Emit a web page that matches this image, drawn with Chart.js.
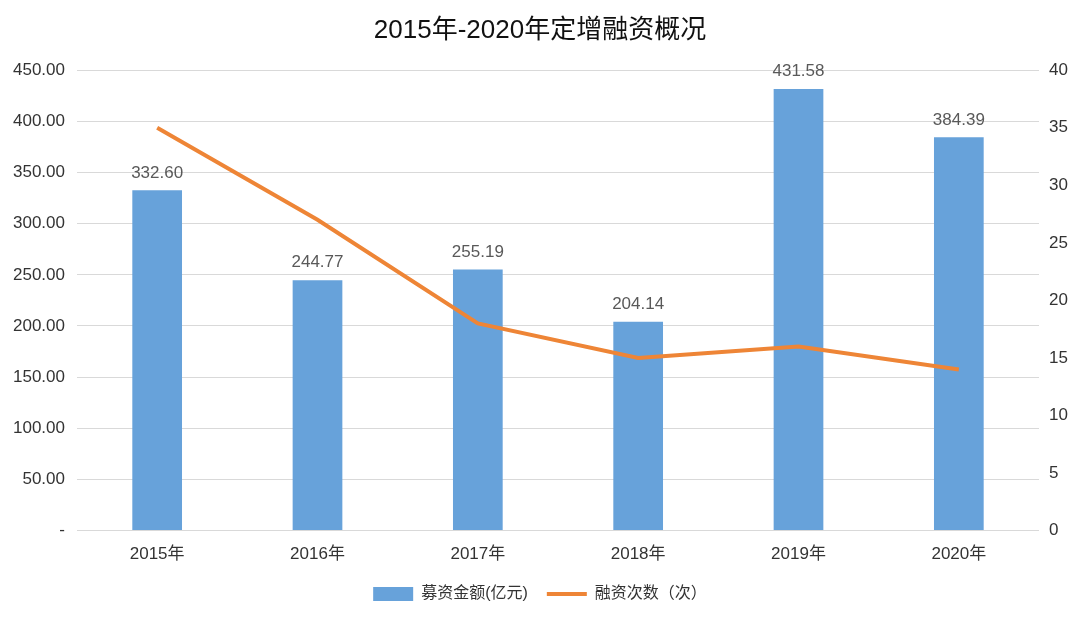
<!DOCTYPE html>
<html><head><meta charset="utf-8">
<script src="https://cdn.jsdelivr.net/npm/chart.js@4/dist/chart.umd.min.js"></script>
<style>html,body{margin:0;padding:0;background:#fff}#wrap{width:1080px;height:617px}</style>
</head><body><div id="wrap"><canvas id="c" width="1080" height="617"></canvas></div>
<script>
const categories = ['2015年','2016年','2017年','2018年','2019年','2020年'];
const amounts = [332.60, 244.77, 255.19, 204.14, 431.58, 384.39];
const counts = [35, 27, 18, 15, 16, 14];
const seriesNames = ['募资金额(亿元)', '融资次数（次）'];
const FONT = '"Liberation Sans", "Noto Sans CJK SC", sans-serif';

const barLabels = {
  id: 'barLabels',
  afterDatasetsDraw(chart) {
    const ctx = chart.ctx;
    const meta = chart.getDatasetMeta(0);
    ctx.save();
    ctx.font = '17px ' + FONT;
    ctx.fillStyle = '#595959';
    ctx.textAlign = 'center';
    ctx.textBaseline = 'bottom';
    meta.data.forEach((el, i) => {
      ctx.fillText(amounts[i].toFixed(2), el.x, el.y - 9);
    });
    ctx.restore();
  }
};

new Chart(document.getElementById('c'), {
  data: {
    labels: categories,
    datasets: [
      { type: 'bar', label: seriesNames[0], data: amounts, yAxisID: 'y',
        backgroundColor: '#67a2da', borderWidth: 0, categoryPercentage: 1, barPercentage: 0.31,
        pointStyle: 'rect', order: 2 },
      { type: 'line', label: seriesNames[1], data: counts, yAxisID: 'y1',
        borderColor: '#ee8536', backgroundColor: '#ee8536', borderWidth: 4, pointRadius: 0,
        tension: 0, pointStyle: 'line', order: 1 }
    ]
  },
  options: {
    responsive: false, animation: false,
    layout: { padding: { top: 0, bottom: 5, left: 0, right: 0 } },
    plugins: {
      title: { display: true, text: '2015年-2020年定增融资概况', color: '#111',
        font: { family: FONT, size: 26, weight: 'normal' }, padding: { top: 15, bottom: 24 } },
      legend: { position: 'bottom', labels: { usePointStyle: true, pointStyleWidth: 40, boxHeight: 14,
        color: '#333', font: { family: FONT, size: 16 }, padding: 19,
        sort: (a, b) => a.datasetIndex - b.datasetIndex } },
      tooltip: { enabled: false }
    },
    scales: {
      x: { grid: { display: false }, border: { display: false },
        afterFit(s) { s.height = s.height - 4; },
        ticks: { color: '#333', font: { family: FONT, size: 17 }, padding: 6 } },
      y: { position: 'left', min: 0, max: 450,
        afterFit(s) { s.width = 77; },
        ticks: { stepSize: 50, color: '#333', font: { family: FONT, size: 17 }, padding: 12,
          callback: v => v === 0 ? '-' : v.toFixed(2) },
        grid: { color: '#d9d9d9', drawTicks: false, lineWidth: 1 }, border: { display: false } },
      y1: { position: 'right', min: 0, max: 40,
        afterFit(s) { s.width = 41; },
        ticks: { stepSize: 5, color: '#333', font: { family: FONT, size: 17 }, padding: 10 },
        grid: { display: false, drawTicks: false }, border: { display: false } }
    }
  },
  plugins: [barLabels]
});
</script></body></html>
